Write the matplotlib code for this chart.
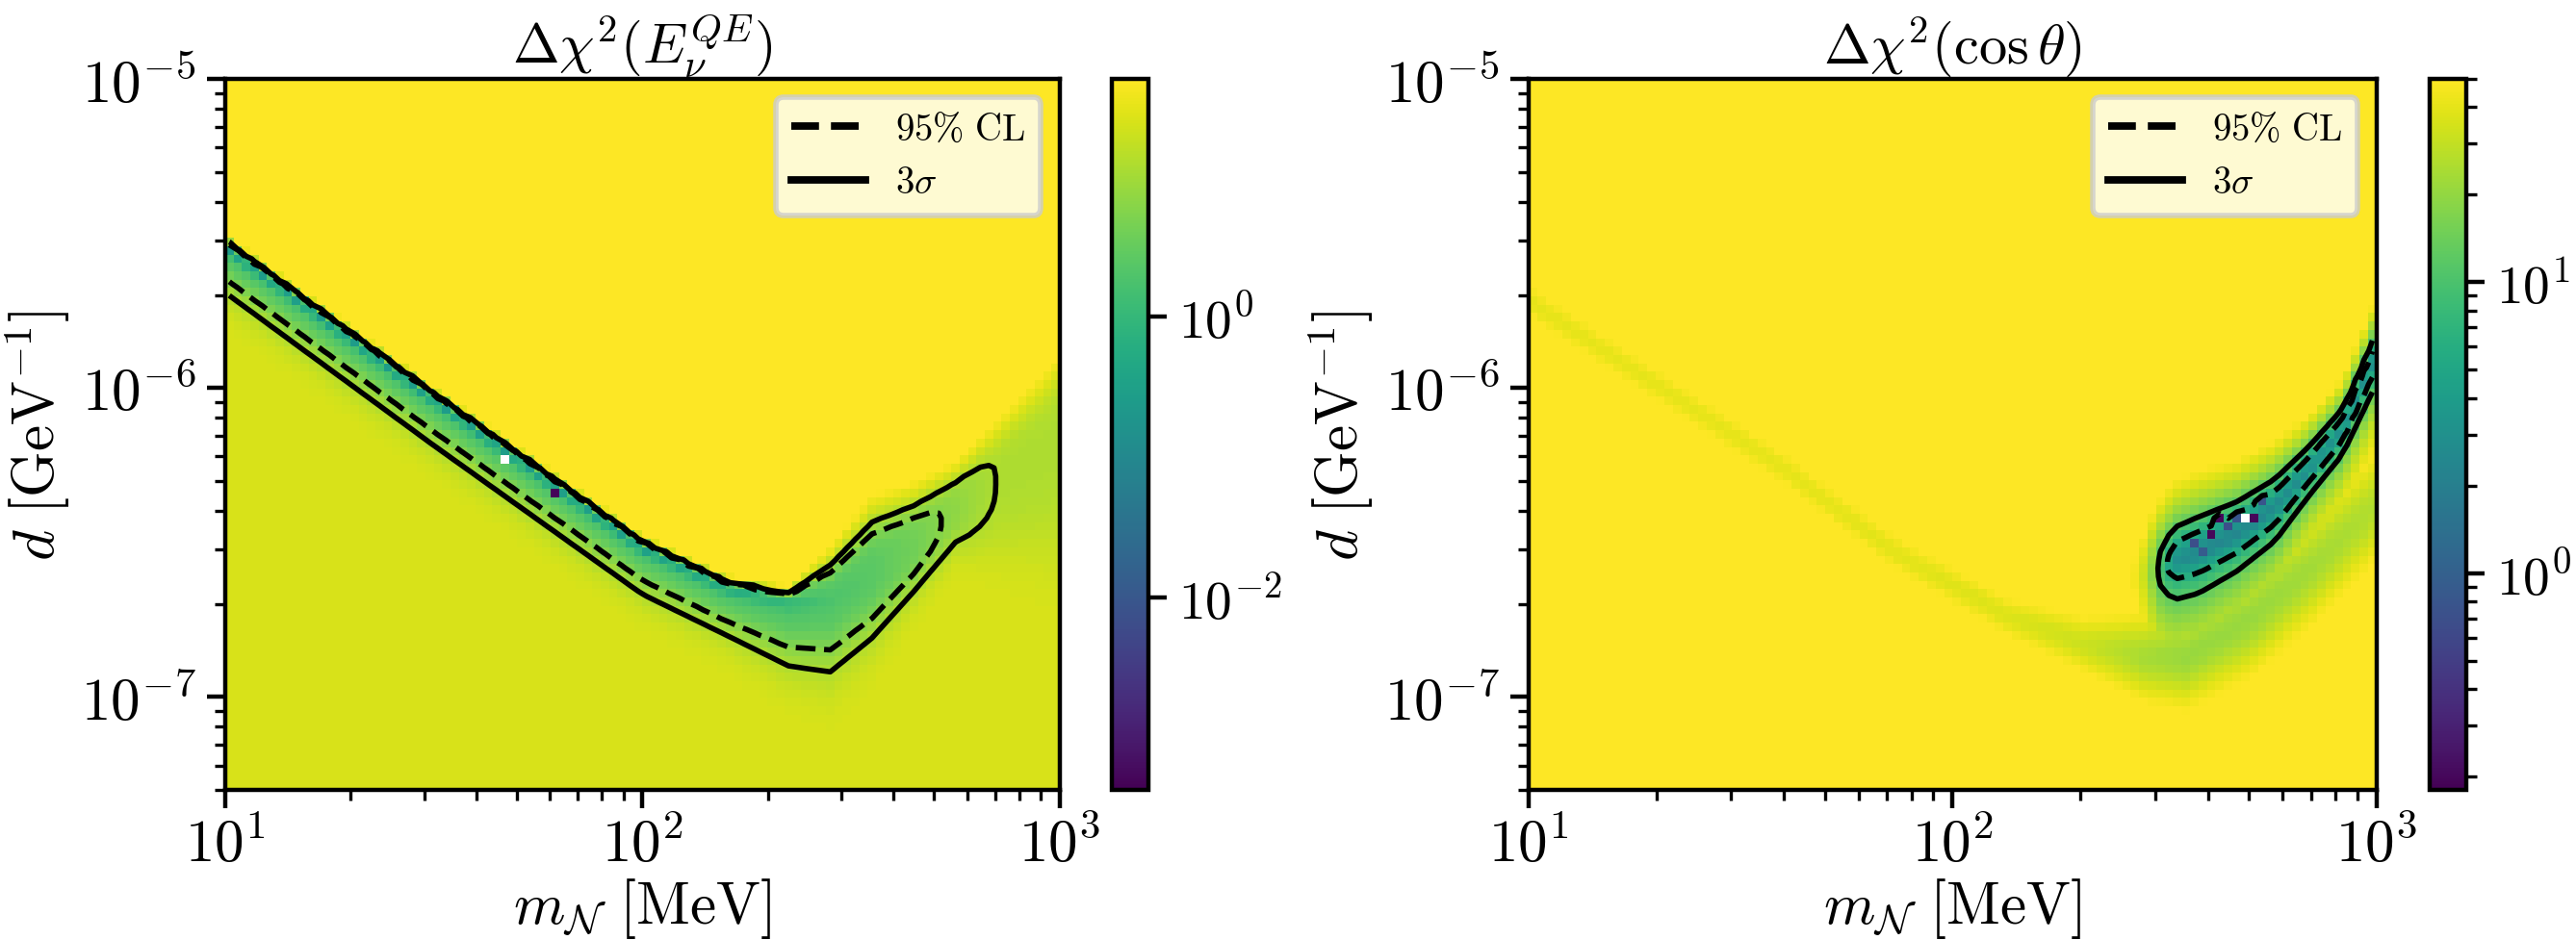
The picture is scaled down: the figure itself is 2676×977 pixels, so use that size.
import numpy as np
import matplotlib
matplotlib.use('Agg')
import matplotlib.pyplot as plt
from matplotlib.colors import LogNorm
from matplotlib.lines import Line2D
from matplotlib.ticker import LogLocator

plt.rcParams['font.family'] = 'serif'
plt.rcParams['font.serif'] = ['cmr10']
plt.rcParams['mathtext.fontset'] = 'cm'
plt.rcParams['axes.formatter.use_mathtext'] = True
plt.rcParams['font.size'] = 11
plt.rcParams['xtick.major.pad'] = 1.5
plt.rcParams['ytick.major.pad'] = 2.0

# scan grid: m_N in MeV, d in GeV^-1
m_edges = np.logspace(1, 3, 101)
d_edges = np.logspace(np.log10(5e-8), -5, 86)

# Delta chi^2 from E_nu^QE: valley of the surface, knots in log10(m/MeV)
qe_logm = [1.0, 1.5, 2.0, 2.2, 2.35, 2.45, 2.55, 2.65, 2.75, 2.85, 3.0]
qe_center = [-5.545, -6.04, -6.52, -6.65, -6.70, -6.69, -6.61, -6.52, -6.40, -6.30, -6.17]
qe_floor = [0.25, 0.25, 0.3, 0.5, 1.0, 1.8, 2.5, 4.0, 7.0, 12.0, 12.0]
qe_shelf = [2.0, 2.0, 2.0, 2.0, 2.0, 2.2, 2.5, 4.0, 7.0, 12.0, 12.0]
qe_up = [0.029, 0.029, 0.029, 0.03, 0.04, 0.12, 0.18, 0.149, 0.114, 0.14, 0.20]
qe_down = [0.178, 0.178, 0.18, 0.182, 0.243, 0.28, 0.246, 0.18, 0.147, 0.25, 0.4]
qe_plateau = 25.0
# single scan points (m, d, value)
qe_pix_m = [47.0, 63.0]
qe_pix_d = [6.0e-7, 4.6e-7]
qe_pix_val = [0.0, 5e-4]

# Delta chi^2 from cos(theta): shallow valley plus the allowed island
ct_logm = [1.0, 1.3, 1.6, 1.86, 2.13, 2.31, 2.45, 2.55, 2.7, 2.85, 3.0]
ct_center = [-5.72, -5.99, -6.26, -6.53, -6.74, -6.83, -6.87, -6.87, -6.75, -6.58, -6.38]
ct_floor = [40, 40, 40, 39, 37, 32, 24, 21, 21, 23, 26]
ct_width = [0.09, 0.09, 0.09, 0.09, 0.10, 0.13, 0.19, 0.22, 0.24, 0.24, 0.24]
ct_ceiling = 80.0

island_logm = [2.40, 2.44, 2.48, 2.52, 2.58, 2.67, 2.76, 2.84, 2.92, 3.0]
island_center = [-6.63, -6.62, -6.60, -6.57, -6.54, -6.48, -6.395, -6.27, -6.14, -5.90]
island_width = [0.10, 0.10, 0.11, 0.117, 0.119, 0.108, 0.098, 0.08, 0.075, 0.085]
island_floor = [60, 40, 11, 3.0, 2.4, 2.4, 2.6, 3.0, 3.0, 3.0]

ct_pix_m = [484, 424, 402, 509, 380, 440, 460, 395, 530]
ct_pix_d = [3.7e-7, 3.7e-7, 3.3e-7, 3.9e-7, 3.2e-7, 3.5e-7, 3.9e-7, 3.0e-7, 4.3e-7]
ct_pix_val = [0.0, 0.2, 0.2, 0.2, 0.7, 0.7, 0.8, 0.9, 0.8]

levels = [5.99, 11.83]


def centers(edges):
    le = np.log10(edges)
    return 0.5 * (le[1:] + le[:-1])


def qe_surface(lm, ld):
    c = np.interp(lm, qe_logm, qe_center)
    z0 = np.interp(lm, qe_logm, qe_floor)
    zs = np.interp(lm, qe_logm, qe_shelf)
    a = np.interp(lm, qe_logm, qe_up)
    b = np.interp(lm, qe_logm, qe_down)
    s = ld - c
    # narrow dip at the minimum on top of a flat shelf
    core = z0 + (zs - z0) * (1 - np.exp(-(s / 0.025) ** 2))
    above = core + 10 * (s / a) ** 4
    below = core + (qe_plateau - zs) * (1 - np.exp(-(np.abs(s) / b) ** 3))
    return np.where(s > 0, above, below)


def ct_surface(lm, ld):
    c = np.interp(lm, ct_logm, ct_center)
    v0 = np.interp(lm, ct_logm, ct_floor)
    w = np.interp(lm, ct_logm, ct_width)
    valley = ct_ceiling - (ct_ceiling - v0) * np.exp(-((ld - c) / w) ** 2)
    ci = np.interp(lm, island_logm, island_center)
    hw = np.interp(lm, island_logm, island_width)
    z0 = np.interp(lm, island_logm, island_floor)
    r = np.abs(ld - ci) / hw
    # steep on the large-d side, slow rise on the small-d side
    island = np.where(ld > ci, z0 + (11.83 - 3.0) * r ** 2,
                      z0 + (11.83 - 3.0) * r ** 1.3)
    return np.minimum(valley, island)


def put_cells(z, ms, ds, vals):
    for m, d, v in zip(ms, ds, vals):
        i = np.searchsorted(d_edges, d) - 1
        j = np.searchsorted(m_edges, m) - 1
        z[i, j] = v
    return z


lm_c = centers(m_edges)
ld_c = centers(d_edges)
LM, LD = np.meshgrid(lm_c, ld_c)
M, D = 10 ** LM, 10 ** LD

z_qe = put_cells(qe_surface(LM, LD), qe_pix_m, qe_pix_d, qe_pix_val)
z_ct = put_cells(ct_surface(LM, LD), ct_pix_m, ct_pix_d, ct_pix_val)

fig = plt.figure(figsize=(2676 / 400, 978 / 400), dpi=400)
ax1 = fig.add_axes([0.0874, 0.1595, 0.324, 0.7556])
cax1 = fig.add_axes([0.4316, 0.1595, 0.0142, 0.7556])
ax2 = fig.add_axes([0.5934, 0.1595, 0.3292, 0.7556])
cax2 = fig.add_axes([0.9432, 0.1595, 0.0142, 0.7556])

panels = [
    (ax1, cax1, z_qe, LogNorm(4.2e-4, 50), r'$\Delta\chi^2(E_\nu^{QE})$'),
    (ax2, cax2, z_ct, LogNorm(0.18, 50), r'$\Delta\chi^2(\cos\theta)$'),
]

handles = [Line2D([], [], color='k', ls='--', lw=1.4),
           Line2D([], [], color='k', ls='-', lw=1.4)]

for ax, cax, z, norm, title in panels:
    zm = np.ma.masked_less_equal(z, 0)
    mesh = ax.pcolormesh(m_edges, d_edges, zm, cmap='viridis', norm=norm)
    ax.contour(M, D, z, levels=levels, colors='k',
               linestyles=['--', '-'], linewidths=1.0)
    ax.set_xscale('log')
    ax.set_yscale('log')
    ax.set_xlim(10, 1000)
    ax.set_ylim(5e-8, 1e-5)
    ax.set_xlabel(r'$m_\mathcal{N}\ [\mathrm{MeV}]$', labelpad=0.5)
    ax.set_ylabel(r'$d\ [\mathrm{GeV}^{-1}]$', labelpad=1.5)
    ax.set_title(title, fontsize=10.5, pad=3)
    ax.legend(handles, [r'$95\%\ \mathrm{CL}$', r'$3\sigma$'],
              loc='upper right', fontsize=7)
    cb = fig.colorbar(mesh, cax=cax)
    cb.ax.tick_params(pad=2, labelsize=10)
    if cax is cax1:
        cb.set_ticks([1e-2, 1e0])
        cb.ax.minorticks_off()
    else:
        cb.ax.yaxis.set_minor_locator(LogLocator(subs=np.arange(2, 10)))

fig.savefig('out.png', dpi=400)
